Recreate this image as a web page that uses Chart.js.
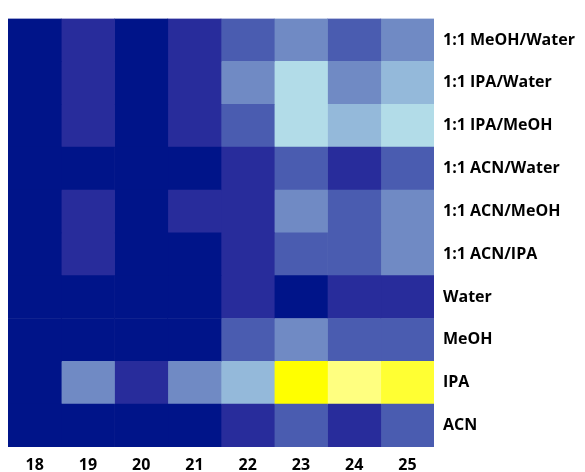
<!DOCTYPE html>
<html>
<head>
<meta charset="utf-8">
<script src="https://cdn.jsdelivr.net/npm/chart.js@4"></script>
<style>
  html, body { margin: 0; padding: 0; background: #fff; }
  #wrap { width: 585px; height: 472px; }
</style>
</head>
<body>
<div id="wrap"><canvas id="heat"></canvas></div>
<script>
/* Data */
const columns = [18, 19, 20, 21, 22, 23, 24, 25];
const rows = [
  "1:1 MeOH/Water", "1:1 IPA/Water", "1:1 IPA/MeOH", "1:1 ACN/Water",
  "1:1 ACN/MeOH", "1:1 ACN/IPA", "Water", "MeOH", "IPA", "ACN"
];
// one array per row, values per column 18..25 (colour-scale level)
const meohWater = [0, 1, 0, 1, 2, 3, 2, 3];
const ipaWater  = [0, 1, 0, 1, 3, 5, 3, 4];
const ipaMeoh   = [0, 1, 0, 1, 2, 5, 4, 5];
const acnWater  = [0, 0, 0, 0, 1, 2, 1, 2];
const acnMeoh   = [0, 1, 0, 1, 1, 3, 2, 3];
const acnIpa    = [0, 1, 0, 0, 1, 2, 2, 3];
const water     = [0, 0, 0, 0, 1, 0, 1, 1];
const meoh      = [0, 0, 0, 0, 2, 3, 2, 2];
const ipa       = [0, 3, 1, 3, 4, 8, 7, 7.6];
const acn       = [0, 0, 0, 0, 1, 2, 1, 2];
const values = [meohWater, ipaWater, ipaMeoh, acnWater, acnMeoh, acnIpa, water, meoh, ipa, acn];

/* Colour scale stops */
const stopVals = [0, 1, 2, 3, 4, 5, 6, 8];
const stopCols = [
  [0, 20, 137], [40, 44, 155], [74, 92, 176], [112, 138, 196],
  [148, 185, 218], [178, 220, 232], [255, 255, 255], [255, 255, 0]
];
function colorFor(v) {
  for (let i = 0; i < stopVals.length - 1; i++) {
    if (v <= stopVals[i + 1]) {
      const t = (v - stopVals[i]) / (stopVals[i + 1] - stopVals[i]);
      const a = stopCols[i], b = stopCols[i + 1];
      const c = a.map((x, k) => Math.round(x + (b[k] - x) * t));
      return `rgb(${c[0]},${c[1]},${c[2]})`;
    }
  }
  const l = stopCols[stopCols.length - 1];
  return `rgb(${l[0]},${l[1]},${l[2]})`;
}

const FONT = "'Open Sans', 'Liberation Sans', sans-serif";

/* One floating-bar dataset per column */
const datasets = columns.map((col, ci) => ({
  label: String(col),
  data: rows.map(() => [col - 0.5, col + 0.5]),
  backgroundColor: rows.map((r, ri) => colorFor(values[ri][ci])),
  borderWidth: 0,
  barPercentage: 1,
  categoryPercentage: 1,
  grouped: false
}));

new Chart(document.getElementById("heat"), {
  type: "bar",
  data: { labels: rows, datasets },
  options: {
    indexAxis: "y",
    responsive: true,
    maintainAspectRatio: false,
    animation: false,
    layout: { padding: { left: 8, top: 11, right: 0, bottom: 0 } },
    plugins: { legend: { display: false }, tooltip: { enabled: false } },
    scales: {
      x: {
        type: "linear",
        min: 17.5, max: 25.5,
        grid: { display: false, drawTicks: false },
        border: { display: false },
        afterFit: (s) => { s.height = 25; },
        afterBuildTicks: (s) => { s.ticks = columns.map(v => ({ value: v })); },
        ticks: {
          padding: 9,
          color: "#000",
          font: { family: FONT, size: 16, weight: "bold" },
          callback: (v) => String(v)
        }
      },
      y: {
        position: "right",
        grid: { display: false, drawTicks: false },
        border: { display: false },
        afterFit: (s) => { s.width = 151; },
        ticks: {
          padding: 9,
          color: "#000",
          font: { family: FONT, size: 16, weight: "bold" }
        }
      }
    }
  }
});
</script>
</body>
</html>
